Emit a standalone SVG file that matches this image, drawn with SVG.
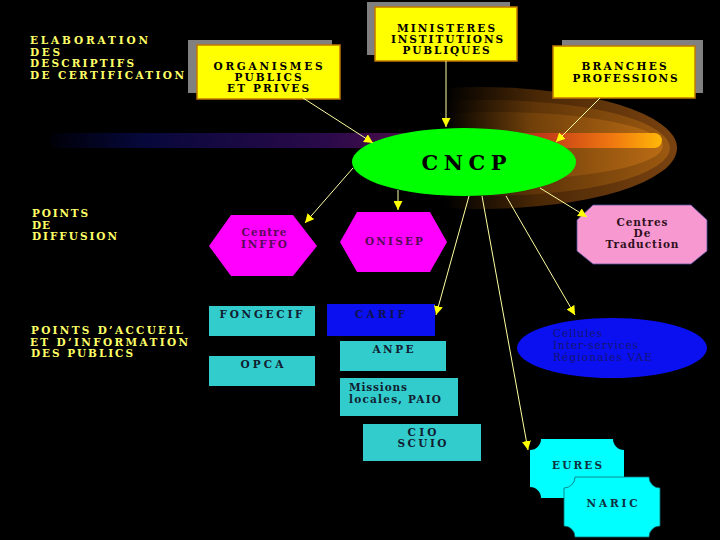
<svg xmlns="http://www.w3.org/2000/svg" width="720" height="540" viewBox="0 0 720 540">
<defs>
<linearGradient id="bar" gradientUnits="userSpaceOnUse" x1="50" y1="0" x2="662" y2="0">
<stop offset="0" stop-color="#000008"/>
<stop offset="0.15" stop-color="#06083a"/>
<stop offset="0.45" stop-color="#2a0a4a"/>
<stop offset="0.65" stop-color="#5a1048"/>
<stop offset="0.8" stop-color="#c03818"/>
<stop offset="0.92" stop-color="#f07810"/>
<stop offset="1" stop-color="#ffb808"/>
</linearGradient>
<linearGradient id="glow1" gradientUnits="userSpaceOnUse" x1="445" y1="0" x2="677" y2="0">
<stop offset="0" stop-color="#000000"/>
<stop offset="0.4" stop-color="#4a2806"/>
<stop offset="1" stop-color="#7a4210"/>
</linearGradient>
<linearGradient id="glow2" gradientUnits="userSpaceOnUse" x1="445" y1="0" x2="665" y2="0">
<stop offset="0" stop-color="#000000"/>
<stop offset="0.4" stop-color="#5e3408"/>
<stop offset="1" stop-color="#9a5810"/>
</linearGradient>
<linearGradient id="glow3" gradientUnits="userSpaceOnUse" x1="445" y1="0" x2="660" y2="0">
<stop offset="0" stop-color="#000000"/>
<stop offset="0.4" stop-color="#70400a"/>
<stop offset="1" stop-color="#b86a14"/>
</linearGradient>
<marker id="ah" markerUnits="userSpaceOnUse" markerWidth="9" markerHeight="9" refX="9" refY="4.5" orient="auto">
<path d="M0,0 L9,4.5 L0,9 z" fill="#ffff00"/>
</marker>
<style>
.lbl{font-family:"DejaVu Serif","Liberation Serif",serif;font-weight:bold;font-size:10.5px;fill:#ffff66}
.bx{font-family:"DejaVu Serif","Liberation Serif",serif;font-weight:bold;font-size:10.5px;fill:#000000;text-anchor:middle}
.dk{font-family:"DejaVu Serif","Liberation Serif",serif;font-weight:bold;font-size:10.5px;text-anchor:middle}
.st{text-anchor:start}
.cel{font-family:"DejaVu Serif","Liberation Serif",serif;font-size:10.5px;fill:#141470}
.shadow{fill:#808080}
.ybox{fill:#ffff00;stroke:#c07800;stroke-width:1.5}
.teal{fill:#33cccc}
.hex{fill:#ff00ff}
.cyan{fill:#00ffff}
.conn line{stroke:#ffffa0;stroke-width:1;marker-end:url(#ah)}
</style>
</defs>
<rect width="720" height="540" fill="#000000"/>

<g id="glow">
<ellipse cx="480" cy="148" rx="197" ry="61" fill="url(#glow1)"/>
<ellipse cx="488" cy="148" rx="182" ry="48" fill="url(#glow2)"/>
<ellipse cx="495" cy="146" rx="168" ry="34" fill="url(#glow3)"/>
<rect x="50" y="133" width="612" height="15" rx="7.5" fill="url(#bar)"/>
</g>

<g id="label-elaboration">
<text class="lbl" x="30" y="44" textLength="118" lengthAdjust="spacing">ELABORATION</text>
<text class="lbl" x="30" y="56" textLength="30" lengthAdjust="spacing">DES</text>
<text class="lbl" x="30" y="67" textLength="104" lengthAdjust="spacing">DESCRIPTIFS</text>
<text class="lbl" x="30" y="79" textLength="154" lengthAdjust="spacing">DE CERTIFICATION</text>
</g>
<g id="label-diffusion">
<text class="lbl" x="32" y="217" textLength="56" lengthAdjust="spacing">POINTS</text>
<text class="lbl" x="32" y="229" textLength="18" lengthAdjust="spacing">DE</text>
<text class="lbl" x="32" y="240" textLength="85" lengthAdjust="spacing">DIFFUSION</text>
</g>
<g id="label-accueil">
<text class="lbl" x="31" y="334" textLength="152" lengthAdjust="spacing">POINTS D’ACCUEIL</text>
<text class="lbl" x="30" y="346" textLength="158" lengthAdjust="spacing">ET D’INFORMATION</text>
<text class="lbl" x="31" y="357" textLength="102" lengthAdjust="spacing">DES PUBLICS</text>
</g>

<g id="organismes">
<rect class="shadow" x="188" y="40" width="144" height="53"/>
<rect class="ybox" x="197" y="45" width="143" height="54"/>
<text class="bx" x="268" y="70" textLength="109" lengthAdjust="spacing">ORGANISMES</text>
<text class="bx" x="268" y="81" textLength="67" lengthAdjust="spacing">PUBLICS</text>
<text class="bx" x="268" y="92" textLength="82" lengthAdjust="spacing">ET PRIVES</text>
</g>
<g id="ministeres">
<rect class="shadow" x="367" y="2" width="143" height="53"/>
<rect class="ybox" x="375" y="7" width="142" height="54"/>
<text class="bx" x="446" y="32" textLength="98" lengthAdjust="spacing">MINISTERES</text>
<text class="bx" x="447" y="43" textLength="112" lengthAdjust="spacing">INSTITUTIONS</text>
<text class="bx" x="446" y="54" textLength="87" lengthAdjust="spacing">PUBLIQUES</text>
</g>
<g id="branches">
<rect class="shadow" x="562" y="40" width="141" height="53"/>
<rect class="ybox" x="553" y="46" width="142" height="52"/>
<text class="bx" x="624" y="70" textLength="85" lengthAdjust="spacing">BRANCHES</text>
<text class="bx" x="625" y="82" textLength="105" lengthAdjust="spacing">PROFESSIONS</text>
</g>

<g id="cncp">
<ellipse cx="464" cy="162" rx="112" ry="34" fill="#00ff00"/>
<text class="bx" x="464" y="170" textLength="85" lengthAdjust="spacing" style="font-size:21px">CNCP</text>
</g>

<g id="centre-inffo">
<polygon class="hex" points="209,246 231,215 293,215 317,246 293,276 231,276"/>
<text class="dk" x="264" y="236" fill="#5a0a5a" textLength="45" lengthAdjust="spacing">Centre</text>
<text class="dk" x="264" y="248" fill="#5a0a5a" textLength="46" lengthAdjust="spacing">INFFO</text>
</g>
<g id="onisep">
<polygon class="hex" points="340,242 357,212 430,212 447,242 430,272 357,272"/>
<text class="dk" x="394" y="245" fill="#5a0a5a" textLength="58" lengthAdjust="spacing">ONISEP</text>
</g>
<g id="traduction">
<polygon points="593,205 691,205 707,220 707,251 691,264 593,264 577,251 577,220" fill="#f898d0" stroke="#5050a0" stroke-width="0.8"/>
<text class="dk" x="642" y="226" fill="#301020" textLength="51" lengthAdjust="spacing">Centres</text>
<text class="dk" x="642" y="237" fill="#301020" textLength="17" lengthAdjust="spacing">De</text>
<text class="dk" x="642" y="248" fill="#301020" textLength="73" lengthAdjust="spacing">Traduction</text>
</g>

<g id="fongecif">
<rect class="teal" x="209" y="306" width="106" height="30"/>
<text class="dk" x="261" y="318" fill="#102030" textLength="83" lengthAdjust="spacing">FONGECIF</text>
</g>
<g id="opca">
<rect class="teal" x="209" y="356" width="106" height="30"/>
<text class="dk" x="262" y="368" fill="#102030" textLength="43" lengthAdjust="spacing">OPCA</text>
</g>
<g id="carif">
<rect x="327" y="304" width="108" height="32" fill="#0a10f0"/>
<text class="dk" x="380" y="318" fill="#101050" textLength="50" lengthAdjust="spacing">CARIF</text>
</g>
<g id="anpe">
<rect class="teal" x="340" y="341" width="106" height="30"/>
<text class="dk" x="393" y="353" fill="#102030" textLength="41" lengthAdjust="spacing">ANPE</text>
</g>
<g id="missions">
<rect class="teal" x="340" y="378" width="118" height="38"/>
<text class="dk st" x="349" y="391" fill="#102030" textLength="58" lengthAdjust="spacing">Missions</text>
<text class="dk st" x="349" y="403" fill="#102030" textLength="92" lengthAdjust="spacing">locales, PAIO</text>
</g>
<g id="cio">
<rect class="teal" x="363" y="424" width="118" height="37"/>
<text class="dk" x="422" y="436" fill="#102030" textLength="29" lengthAdjust="spacing">CIO</text>
<text class="dk" x="422" y="447" fill="#102030" textLength="49" lengthAdjust="spacing">SCUIO</text>
</g>
<g id="cellules">
<ellipse cx="612" cy="348" rx="95" ry="30" fill="#0a10f0"/>
<text class="cel" x="553" y="337" textLength="49" lengthAdjust="spacing">Cellules</text>
<text class="cel" x="553" y="349" textLength="85" lengthAdjust="spacing">Inter-services</text>
<text class="cel" x="553" y="361" textLength="99" lengthAdjust="spacing">Régionales VAE</text>
</g>
<g id="eures">
<path class="cyan" d="M541,439 H613 A11,11 0 0 0 624,450 V487 A11,11 0 0 0 613,498 H541 A11,11 0 0 0 530,487 V450 A11,11 0 0 0 541,439 Z"/>
<text class="dk" x="577" y="469" fill="#103040" textLength="50" lengthAdjust="spacing">EURES</text>
</g>
<g id="naric">
<path class="cyan" stroke="#107070" stroke-width="0.8" d="M575,477 H649 A11,11 0 0 0 660,488 V526 A11,11 0 0 0 649,537 H575 A11,11 0 0 0 564,526 V488 A11,11 0 0 0 575,477 Z"/>
<text class="dk" x="612" y="507" fill="#103040" textLength="51" lengthAdjust="spacing">NARIC</text>
</g>

<g id="connectors" class="conn">
<line x1="303" y1="98" x2="373" y2="143"/>
<line x1="446" y1="61" x2="446" y2="127"/>
<line x1="600" y1="98" x2="556" y2="142"/>
<line x1="353" y1="168" x2="305" y2="223"/>
<line x1="398" y1="190" x2="398" y2="210"/>
<line x1="540" y1="188" x2="587" y2="217"/>
<line x1="469" y1="196" x2="436" y2="315"/>
<line x1="482" y1="196" x2="528" y2="450"/>
<line x1="506" y1="196" x2="575" y2="315"/>
</g>
</svg>
